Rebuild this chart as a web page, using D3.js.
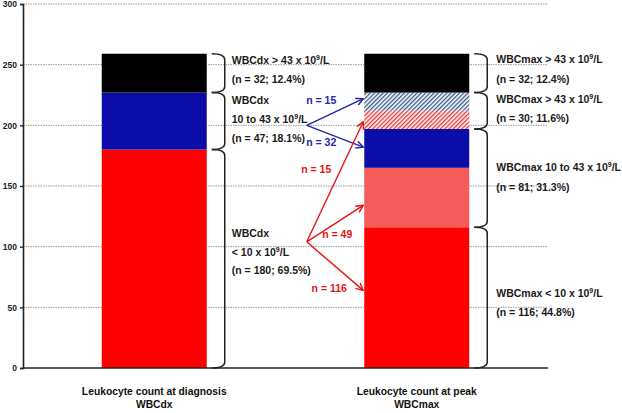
<!DOCTYPE html>
<html>
<head>
<meta charset="utf-8">
<script src="https://cdn.jsdelivr.net/npm/d3@7"></script>
<style>
body { margin: 0; background: #fff; }
text { font-family: "Liberation Sans", Arial, sans-serif; font-weight: bold; }
</style>
</head>
<body>
<div id="chart"></div>
<script>
var categories = ["WBCdx", "WBCmax"];
var categoryTitles = ["Leukocyte count at diagnosis", "Leukocyte count at peak"];
var yTicks = [0, 50, 100, 150, 200, 250, 300];

// stacked groups, bottom to top
var dxGroups = ["lt10", "mid", "gt43"];
var dxCounts = [180, 47, 32];
var maxGroups = ["lt10", "midFromLt10", "mid", "gt43FromLt10", "gt43FromMid", "gt43"];
var maxCounts = [116, 49, 32, 15, 15, 32];

// brackets, bottom to top, with their text
var dxBracketCounts = [180, 47, 32];
var dxBracketLabels = [
  ["WBCdx", "< 10 x 10⁹/L", "(n = 180; 69.5%)"],
  ["WBCdx", "10 to 43 x 10⁹/L", "(n = 47; 18.1%)"],
  ["WBCdx > 43 x 10⁹/L", "(n = 32; 12.4%)"]
];
var maxBracketCounts = [116, 81, 30, 32];
var maxBracketLabels = [
  ["WBCmax < 10 x 10⁹/L", "(n = 116; 44.8%)"],
  ["WBCmax 10 to 43 x 10⁹/L", "(n = 81; 31.3%)"],
  ["WBCmax > 43 x 10⁹/L", "(n = 30; 11.6%)"],
  ["WBCmax > 43 x 10⁹/L", "(n = 32; 12.4%)"]
];

// transitions dx -> max (levels read on the y scale)
var blueFrom = 200, blueTo = [222, 182], blueN = [15, 32];
var redFrom = 104, redTo = [203, 134, 64], redN = [15, 49, 116];

// ---- layout / style (not data) ----
var fills = {
  lt10: "#ff0000", mid: "#0c0ca6", gt43: "#000000",
  midFromLt10: "#f45b5b", gt43FromLt10: "url(#hatchRed)", gt43FromMid: "url(#hatchBlue)"
};
var dxLabelShift = [-22, -17, -9];
var maxLabelShift = [-1, -7, -8, -10];
var blueLabelOff = [[-42, 5], [-42, -1]];
var redLabelOff = [[-47, 51], [-26, 33], [-34, 2]];

var W = 622, H = 413;
var margin = {top: 4, left: 23, right: 74, bottom: 45};

var svg = d3.select("#chart").append("svg")
    .attr("width", W)
    .attr("height", H);

var defs = svg.append("defs");
function hatch(id, color) {
  var p = defs.append("pattern")
      .attr("id", id)
      .attr("patternUnits", "userSpaceOnUse")
      .attr("width", 3)
      .attr("height", 3)
      .attr("patternTransform", "rotate(45)");
  p.append("rect").attr("width", 3).attr("height", 3).attr("fill", "#fff");
  p.append("line").attr("x1", 0.7).attr("x2", 0.7).attr("y1", 0).attr("y2", 3)
      .attr("stroke", color).attr("stroke-width", 1.3);
}
hatch("hatchRed", "#ee2a2a");
hatch("hatchBlue", "#34548a");

function arrowHead(id, color) {
  defs.append("marker")
      .attr("id", id)
      .attr("viewBox", "0 0 10 10")
      .attr("refX", 9).attr("refY", 5)
      .attr("markerUnits", "userSpaceOnUse")
      .attr("markerWidth", 9).attr("markerHeight", 9)
      .attr("orient", "auto")
    .append("path")
      .attr("d", "M1,1 L9,5 L1,9")
      .attr("fill", "none")
      .attr("stroke", color)
      .attr("stroke-width", 1.6);
}
arrowHead("headBlue", "#2424a6");
arrowHead("headRed", "#e41414");

var yScale = d3.scaleLinear()
    .domain([0, 300])
    .range([H - margin.bottom, margin.top]);

var xScale = d3.scaleBand()
    .domain(categories)
    .range([margin.left, W - margin.right])
    .paddingInner(0.6)
    .paddingOuter(0.3);

// grid
svg.append("g")
  .selectAll("line")
  .data(yTicks.slice(1))
  .enter().append("line")
    .attr("x1", margin.left).attr("x2", W - margin.right)
    .attr("y1", function(d) { return yScale(d); })
    .attr("y2", function(d) { return yScale(d); })
    .attr("stroke", "#999")
    .attr("stroke-dasharray", "1.5,1");

function stack(groups, counts) {
  var acc = 0;
  return groups.map(function(g, i) {
    var s = {key: g, y0: acc, y1: acc + counts[i]};
    acc += counts[i];
    return s;
  });
}

var stacks = [stack(dxGroups, dxCounts), stack(maxGroups, maxCounts)];

stacks.forEach(function(st, ci) {
  svg.append("g")
    .selectAll("rect")
    .data(st)
    .enter().append("rect")
      .attr("x", xScale(categories[ci]))
      .attr("width", xScale.bandwidth())
      .attr("y", function(d) { return yScale(d.y1); })
      .attr("height", function(d) { return yScale(d.y0) - yScale(d.y1); })
      .attr("fill", function(d) { return fills[d.key]; });
});

// axes
var yAxis = d3.axisLeft(yScale)
    .tickValues(yTicks)
    .tickSize(3)
    .tickPadding(3);

var gy = svg.append("g")
    .attr("transform", "translate(" + margin.left + ",0)")
    .call(yAxis);
gy.select(".domain").attr("stroke", "#222").attr("stroke-width", 1.6);
gy.selectAll(".tick line").attr("stroke", "#222").attr("stroke-width", 1.4);
gy.selectAll(".tick text")
    .attr("font-size", 8.5)
    .attr("fill", "#222")
    .style("font-family", "'Liberation Sans', Arial, sans-serif")
    .style("font-weight", "bold");

svg.append("line")
    .attr("x1", margin.left).attr("x2", W - margin.right)
    .attr("y1", yScale(0)).attr("y2", yScale(0))
    .attr("stroke", "#222").attr("stroke-width", 1.6);

// category titles
categories.forEach(function(c, i) {
  var t = svg.append("text")
      .attr("x", xScale(c) + xScale.bandwidth() / 2)
      .attr("y", yScale(0) + 27)
      .attr("text-anchor", "middle")
      .attr("font-size", 10.3)
      .attr("fill", "#111");
  t.append("tspan").text(categoryTitles[i]);
  t.append("tspan")
      .attr("x", xScale(c) + xScale.bandwidth() / 2)
      .attr("dy", 13)
      .text(c);
});

function addLine(sel, str) {
  var parts = str.split("⁹");
  sel.append("tspan").text(parts[0]);
  for (var k = 1; k < parts.length; k++) {
    sel.append("tspan").attr("dy", -4).attr("font-size", 7).text("9");
    sel.append("tspan").attr("dy", 4).text(parts[k]);
  }
}

function brackets(counts, labels, shifts, ci, textGap, lineGap) {
  var barRight = xScale(categories[ci]) + xScale.bandwidth();
  var jx = barRight + 5, sx = barRight + 18, r = 6;
  var acc = 0;
  counts.forEach(function(n, i) {
    var yB = yScale(acc), yT = yScale(acc + n);
    acc += n;
    svg.append("path")
        .attr("d", "M" + jx + "," + yT +
             " Q" + sx + "," + yT + " " + sx + "," + (yT + r) +
             " L" + sx + "," + (yB - r) +
             " Q" + sx + "," + yB + " " + jx + "," + yB)
        .attr("fill", "none")
        .attr("stroke", "#222")
        .attr("stroke-width", 1.5);
    var cy = (yT + yB) / 2 + shifts[i];
    labels[i].forEach(function(line, k) {
      var t = svg.append("text")
          .attr("x", sx + textGap)
          .attr("y", cy + k * lineGap)
          .attr("font-size", 10.5)
          .attr("fill", "#1a1a1a");
      addLine(t, line);
    });
  });
}
brackets(dxBracketCounts, dxBracketLabels, dxLabelShift, 0, 7, 18.8);
brackets(maxBracketCounts, maxBracketLabels, maxLabelShift, 1, 9, 19.5);

// transition arrows
var x0 = xScale(categories[0]) + xScale.bandwidth() + 100;
var x1 = xScale(categories[1]) - 1;

function arrows(from, tos, ns, offs, color, head) {
  tos.forEach(function(v, i) {
    svg.append("line")
        .attr("x1", x0).attr("y1", yScale(from))
        .attr("x2", x1).attr("y2", yScale(v))
        .attr("stroke", color)
        .attr("stroke-width", 1.4)
        .attr("marker-end", "url(#" + head + ")");
    svg.append("text")
        .attr("x", x1 + offs[i][0])
        .attr("y", yScale(v) + offs[i][1])
        .attr("text-anchor", "middle")
        .attr("font-size", 10.5)
        .attr("fill", color)
        .text("n = " + ns[i]);
  });
}
arrows(blueFrom, blueTo, blueN, blueLabelOff, "#2424a6", "headBlue");
arrows(redFrom, redTo, redN, redLabelOff, "#e41414", "headRed");
</script>
</body>
</html>
